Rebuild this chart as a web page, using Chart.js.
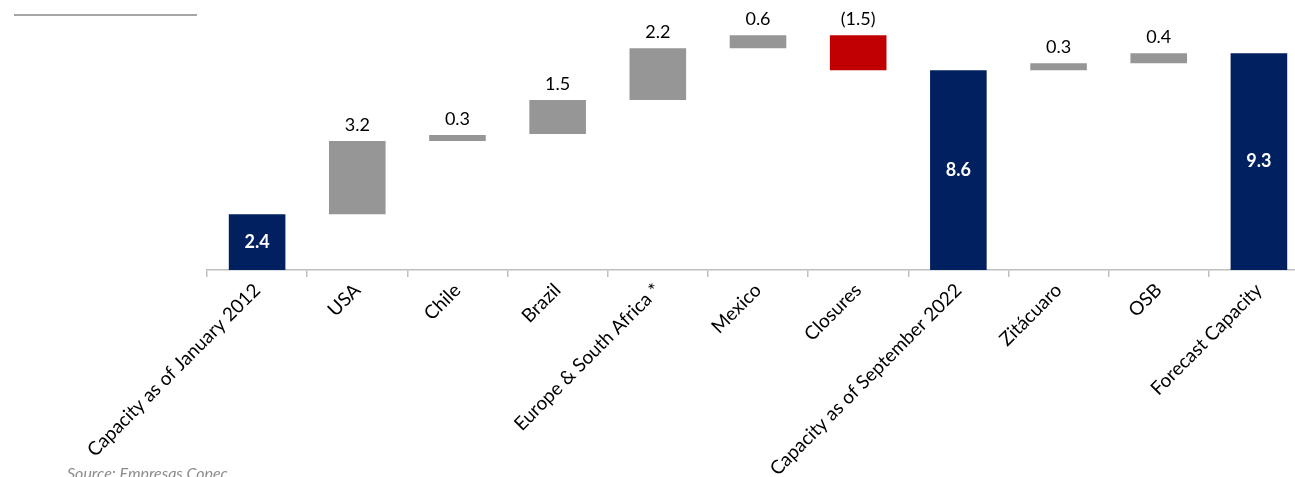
<!DOCTYPE html>
<html>
<head>
<meta charset="utf-8">
<script src="https://cdn.jsdelivr.net/npm/chart.js@4.4.1/dist/chart.umd.min.js"></script>
<style>
  body { margin: 0; overflow: hidden; background: #fff; }
  #wrap { position: relative; width: 1295px; height: 477px; overflow: hidden; }
  #topline { position: absolute; left: 14px; top: 14px; width: 183px; height: 2px; background: #a6a6a6; }
  #source { position: absolute; left: 67px; top: 463px; font: italic 16px Lato, sans-serif; color: #8c8c8c; }
  canvas { position: absolute; left: 0; top: 0; }
</style>
</head>
<body>
<div id="wrap">
  <div id="topline"></div>
  <canvas id="waterfall" width="1309" height="477"></canvas>
  <div id="source">Source: Empresas Copec</div>
</div>
<script>
// Categories and bar extents (start / end of each floating bar, million m3)
const categories = ['Capacity as of January 2012', 'USA', 'Chile', 'Brazil', 'Europe & South Africa *',
    'Mexico', 'Closures', 'Capacity as of September 2022', 'Zitácuaro', 'OSB', 'Forecast Capacity'];
const barStart = [0, 2.4, 5.54, 5.84, 7.3, 9.53, 10.09, 0, 8.58, 8.88, 0];
const barEnd = [2.4, 5.54, 5.8, 7.3, 9.53, 10.09, 8.58, 8.58, 8.88, 9.31, 9.31];
const valueLabels = ['2.4', '3.2', '0.3', '1.5', '2.2', '0.6', '(1.5)', '8.6', '0.3', '0.4', '9.3'];
const barKind = ['total', 'up', 'up', 'up', 'up', 'up', 'down', 'total', 'up', 'up', 'total'];

const kindColor = { total: '#002060', up: '#969696', down: '#c00000' };

const valueLabelPlugin = {
    id: 'valueLabels',
    afterDatasetsDraw(chart) {
        const ctx = chart.ctx;
        const meta = chart.getDatasetMeta(0);
        const yScale = chart.scales.y;
        ctx.save();
        ctx.textAlign = 'center';
        ctx.textBaseline = 'middle';
        meta.data.forEach((bar, i) => {
            const top = yScale.getPixelForValue(Math.max(barStart[i], barEnd[i]));
            const bottom = yScale.getPixelForValue(Math.min(barStart[i], barEnd[i]));
            if (barKind[i] === 'total') {
                ctx.fillStyle = '#ffffff';
                ctx.font = 'bold 18px Lato, sans-serif';
                ctx.fillText(valueLabels[i], bar.x, (top + bottom) / 2);
            } else {
                ctx.fillStyle = '#000000';
                ctx.font = '18px Lato, sans-serif';
                ctx.fillText(valueLabels[i], bar.x, top - 16);
            }
        });
        ctx.restore();
    }
};

const ctx = document.getElementById('waterfall').getContext('2d');
const chart = new Chart(ctx, {
    type: 'bar',
    data: {
        labels: categories,
        datasets: [{
            data: categories.map((c, i) => [barStart[i], barEnd[i]]),
            backgroundColor: barKind.map(k => kindColor[k]),
            borderWidth: 0,
            barPercentage: 0.565,
            categoryPercentage: 1.0
        }]
    },
    options: {
        responsive: false,
        animation: false,
        layout: { padding: { left: 207, right: 0, top: 14, bottom: 0 } },
        plugins: { legend: { display: false }, tooltip: { enabled: false } },
        scales: {
            x: {
                afterFit(scale) { scale.height = 207; },
                border: { color: '#bfbfbf', width: 1.5 },
                grid: { display: true, drawOnChartArea: false, drawTicks: true, tickLength: 7, offset: true, color: '#bfbfbf', lineWidth: 1.5 },
                ticks: {
                    autoSkip: false,
                    minRotation: 45,
                    maxRotation: 45,
                    padding: 2,
                    color: '#000000',
                    font: { family: 'Lato, sans-serif', size: 19 }
                }
            },
            y: {
                display: false,
                min: 0,
                max: 11
            }
        }
    },
    plugins: [valueLabelPlugin]
});
</script>
</body>
</html>
